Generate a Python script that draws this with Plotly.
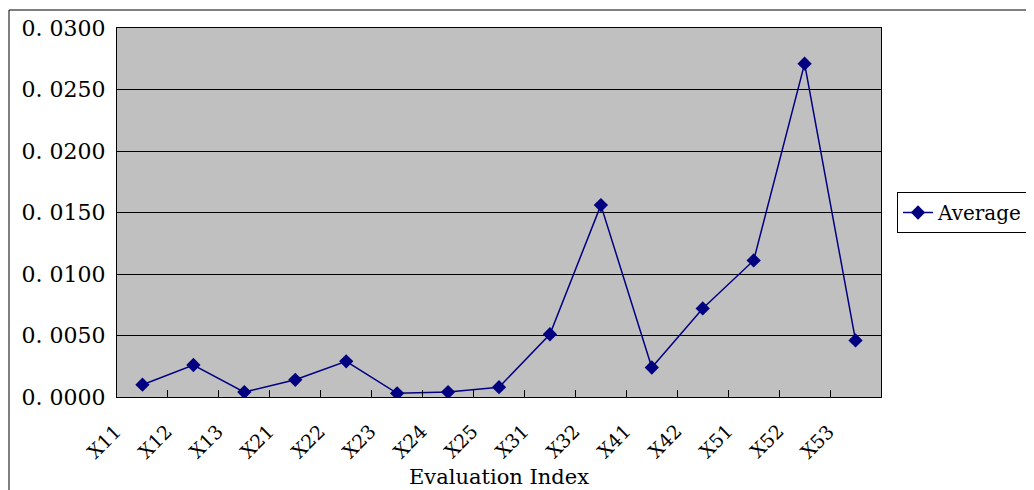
import plotly.graph_objects as go

categories = ["X11", "X12", "X13", "X21", "X22", "X23", "X24", "X25",
              "X31", "X32", "X41", "X42", "X51", "X52", "X53"]
average = [0.0010, 0.0026, 0.0004, 0.0014, 0.0029, 0.0003, 0.0004, 0.0008,
           0.0051, 0.0156, 0.0024, 0.0072, 0.0111, 0.0271, 0.0046]
y_ticks = [0.0, 0.005, 0.01, 0.015, 0.02, 0.025, 0.03]
y_tick_text = ["0. 0000", "0. 0050", "0. 0100", "0. 0150", "0. 0200", "0. 0250", "0. 0300"]

FONT = "DejaVu Serif"
NAVY = "#000080"

fig = go.Figure()
fig.add_trace(go.Scatter(
    x=categories, y=average, name="Average",
    mode="lines+markers",
    line=dict(color=NAVY, width=1.5),
    marker=dict(symbol="diamond", size=11, color=NAVY),
))

# page has an 8px body margin; compensate so plot area lands at page x 117..881, y 28..397
L, R, T, B = 109, 161, 20, 101
W, H = 1034, 490
pw, ph = W - L - R, H - T - B

# rotated category labels, placed at each category through the x axis
annotations = [
    dict(x=c, y=0, xref="x", yref="paper", text=c, showarrow=False,
         textangle=-45, xanchor="right", yanchor="top", xshift=-14, yshift=-20,
         font=dict(family=FONT, size=19, color="black"))
    for c in categories
]
annotations.append(dict(
    x=0.5, y=0, xref="paper", yref="paper", text="Evaluation Index", showarrow=False,
    xanchor="center", yanchor="middle", yshift=-80,
    font=dict(family=FONT, size=21, color="black"),
))

fig.update_layout(
    width=W, height=H,
    margin=dict(l=L, r=R, t=T, b=B, autoexpand=False),
    paper_bgcolor="white",
    plot_bgcolor="#C0C0C0",
    font=dict(family=FONT, color="black", size=18),
    showlegend=True,
    legend=dict(
        x=(889 - L) / pw, y=(H - B - 184) / ph, xanchor="left", yanchor="top",
        bgcolor="white", bordercolor="black", borderwidth=1,
        font=dict(family=FONT, size=20),
    ),
    xaxis=dict(
        type="category",
        ticks="inside", tickson="boundaries", ticklen=7, tickcolor="black",
        showticklabels=False,
        showgrid=False, showline=True, linecolor="black", linewidth=1, mirror=True,
        range=[-0.5, len(categories) - 0.5],
    ),
    yaxis=dict(
        range=[0, 0.03],
        tickvals=y_ticks, ticktext=y_tick_text,
        ticks="inside", ticklen=6, tickcolor="black",
        showgrid=True, gridcolor="black", gridwidth=1,
        showline=True, linecolor="black", linewidth=1, mirror=True,
        zeroline=False,
        tickfont=dict(family=FONT, size=22),
        ticklabelstandoff=6,
    ),
    annotations=annotations,
    shapes=[dict(
        type="rect", xref="paper", yref="paper",
        x0=(1 - L) / pw, x1=1.4, y0=-0.6, y1=(H - B - 2) / ph,
        line=dict(color="black", width=1), fillcolor="rgba(0,0,0,0)", layer="below",
    )],
)

fig.write_html("out.html")
